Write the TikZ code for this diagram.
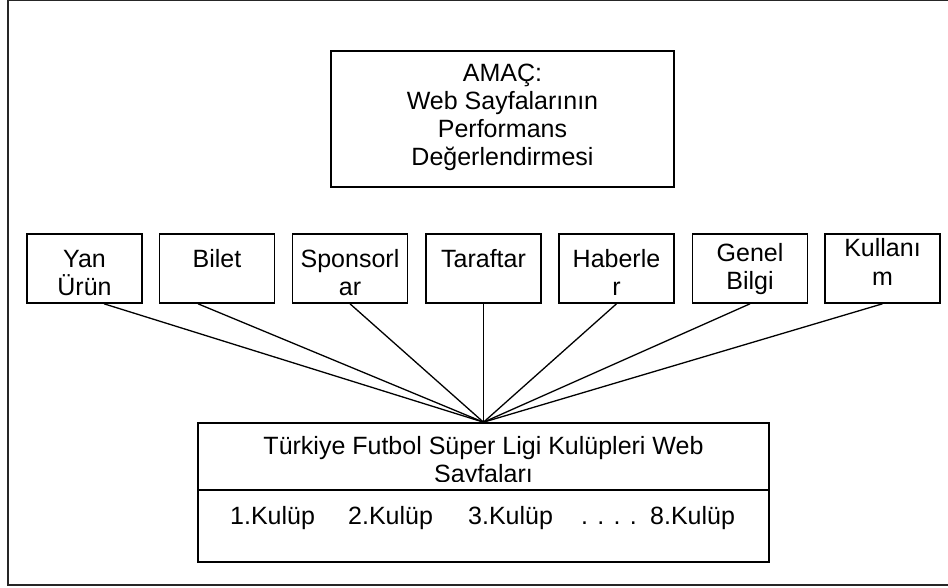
\documentclass[tikz,border=0pt]{standalone}
\usepackage{fontspec}
\setmainfont{Liberation Sans}
\usetikzlibrary{calc}
\begin{document}
\begin{tikzpicture}[x=1bp,y=-1bp,
  box/.style={draw, line width=1.6bp, inner sep=0pt},
  critbox/.style={box, minimum width=115bp, minimum height=69bp},
  lbl/.style={inner sep=0pt, anchor=base, font=\fontsize{25bp}{28bp}\selectfont},
  lblw/.style={lbl, anchor=base west},
  link/.style={line width=1.3bp},
  frameline/.style={line width=1.6bp, draw=black!85}]
\useasboundingbox (0,0) rectangle (948,588);

% outer frame, open to the right
\draw[frameline] (960,0.3) -- (8,0.3) -- (8,585) -- (960,585);

% goal box
\node[box, minimum width=343bp, minimum height=136bp] (goal) at (502.5,119) {};
\node[lbl] (g1) at (502.5,82) {AMAÇ:};
\node[lbl] (g2) at (502.5,110) {Web Sayfalarının};
\node[lbl] (g3) at (502.5,138) {Performans};
\node[lbl] (g4) at (502.5,166) {Değerlendirmesi};

% criteria boxes
\node[critbox] (c1) at (84.5,268.5) {};
\node[critbox] (c2) at (217,268.5) {};
\node[critbox] (c3) at (350,268.5) {};
\node[critbox] (c4) at (483.5,268.5) {};
\node[critbox] (c5) at (616.5,268.5) {};
\node[critbox] (c6) at (750,268.5) {};
\node[critbox] (c7) at (882.5,268.5) {};

\node[lbl] (c1a) at (84.5,268) {Yan};
\node[lbl] (c1b) at (84.5,295) {Ürün};
\node[lbl] (c2a) at (217,268) {Bilet};
\node[lbl] (c3a) at (350,268) {Sponsorl};
\node[lbl] (c3b) at (350,295) {ar};
\node[lbl] (c4a) at (483.5,268) {Taraftar};
\node[lbl] (c5a) at (616.5,268) {Haberle};
\node[lbl] (c5b) at (616.5,295) {r};
\node[lbl] (c6a) at (750,262) {Genel};
\node[lbl] (c6b) at (750,289) {Bilgi};
\node[lbl] (c7a) at (882.5,257) {Kullanı};
\node[lbl] (c7b) at (882.5,285) {m};

% clubs box
\node[box, minimum width=571bp, minimum height=139bp] (clubs) at (483.5,492.5) {};
\path (clubs.north west) ++(0,68) coordinate (sepL);
\path (clubs.north east) ++(0,68) coordinate (sepR);
\draw[box] (sepL) -- (sepR);
\begin{scope}
  \clip (clubs.north west) rectangle ($(clubs.north east)+(0,59.5)$);
  \node[lbl] (t1) at (483.5,454) {Türkiye Futbol Süper Ligi Kulüpleri Web};
  \node[lbl] (t2) at (483.5,482) {Sayfaları};
\end{scope}
\node[lblw] (k1) at (230,524) {1.Kulüp};
\node[lblw] (k2) at (348,524) {2.Kulüp};
\node[lblw] (k3) at (468,524) {3.Kulüp};
\node[lblw] (kd) at (581,524) {. . . .};
\node[lblw] (k8) at (650,524) {8.Kulüp};

% connectors from the criteria to the clubs box
\draw[link] ($(c1.south)+(19.5,0)$) -- (clubs.north);
\draw[link] ($(c2.south)+(-19,0)$) -- (clubs.north);
\draw[link] (c3.south) -- (clubs.north);
\draw[link] (c4.south) -- (clubs.north);
\draw[link] (c5.south) -- (clubs.north);
\draw[link] (c6.south) -- (clubs.north);
\draw[link] (c7.south) -- (clubs.north);
\end{tikzpicture}
\end{document}
